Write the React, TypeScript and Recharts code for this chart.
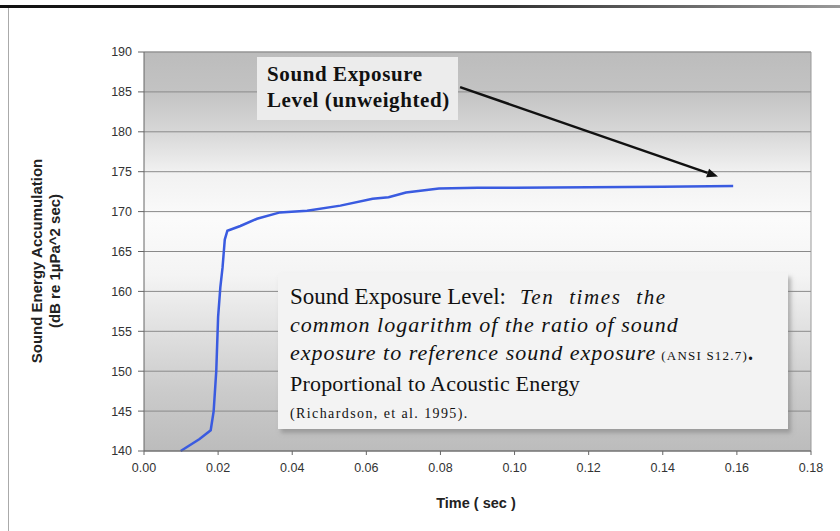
import { LineChart, Line, XAxis, YAxis, CartesianGrid, ReferenceLine, Customized } from 'recharts'

const timeSec = [0.0099, 0.015, 0.018, 0.0188, 0.0195, 0.02, 0.0206, 0.0212, 0.0218, 0.0225, 0.026, 0.0305, 0.0367, 0.044, 0.053, 0.0617, 0.066, 0.0707, 0.0796, 0.09, 0.1, 0.12, 0.14, 0.159]
const selDb = [140.0, 141.5, 142.6, 145.0, 150.0, 156.8, 160.5, 163.0, 166.5, 167.6, 168.2, 169.1, 169.9, 170.1, 170.75, 171.6, 171.8, 172.4, 172.9, 173.0, 173.0, 173.05, 173.1, 173.2]
const xTicks = [0, 0.02, 0.04, 0.06, 0.08, 0.1, 0.12, 0.14, 0.16, 0.18]
const yTicks = [140, 145, 150, 155, 160, 165, 170, 175, 180, 185, 190]
const arrowFrom = { x: 0.0853, y: 185.6 }
const arrowTo = { x: 0.1549, y: 174.4 }

const data = timeSec.map((t, i) => ({ t, sel: selDb[i] }))

const sans = '"Liberation Sans", Arial, sans-serif'
const serif = '"Liberation Serif", "Times New Roman", serif'

function Extras() {
  return (
    <g>
      <defs>
        <linearGradient id="plotBg" x1="0" y1="0" x2="0" y2="1">
          <stop offset="0%" stopColor="#bcbcbc" />
          <stop offset="10%" stopColor="#c3c3c3" />
          <stop offset="20%" stopColor="#d7d7d7" />
          <stop offset="30%" stopColor="#f1f1f1" />
          <stop offset="42%" stopColor="#fbfbfb" />
          <stop offset="56%" stopColor="#f4f4f4" />
          <stop offset="70%" stopColor="#e0e0e0" />
          <stop offset="85%" stopColor="#cbcbcb" />
          <stop offset="100%" stopColor="#bcbcbc" />
        </linearGradient>
      </defs>
      <text
        transform="rotate(-90 36 261)"
        x={36}
        y={261}
        textAnchor="middle"
        dominantBaseline="central"
        fontFamily={sans}
        fontWeight="bold"
        fontSize={15}
        fill="#222"
      >
        Sound Energy Accumulation
      </text>
      <text
        transform="rotate(-90 54 261)"
        x={54}
        y={261}
        textAnchor="middle"
        dominantBaseline="central"
        fontFamily={sans}
        fontWeight="bold"
        fontSize={15}
        fill="#222"
      >
        (dB re 1µPa^2 sec)
      </text>
      <text x={476} y={508} textAnchor="middle" fontFamily={sans} fontWeight="bold" fontSize={14.5} fill="#222">
        Time ( sec )
      </text>
    </g>
  )
}

function Arrow(props: any) {
  const { x1, y1, x2, y2 } = props
  if (x1 == null) return null
  const ang = Math.atan2(y2 - y1, x2 - x1)
  const len = 11
  const w = 4.5
  const bx = x2 - len * Math.cos(ang)
  const by = y2 - len * Math.sin(ang)
  const p1 = `${bx + w * Math.sin(ang)},${by - w * Math.cos(ang)}`
  const p2 = `${bx - w * Math.sin(ang)},${by + w * Math.cos(ang)}`
  return (
    <g>
      <line x1={x1} y1={y1} x2={bx} y2={by} stroke="#111" strokeWidth={2.5} />
      <polygon points={`${x2},${y2} ${p1} ${p2}`} fill="#111" />
    </g>
  )
}

export default function App() {
  return (
    <div style={{ position: 'relative', width: 840, height: 531, background: '#fff', overflow: 'hidden' }}>
      <style>{'body{margin:0}'}</style>
      <div style={{ position: 'absolute', left: 0, top: 5, width: 840, height: 3, background: 'linear-gradient(to right, #111 0%, #333 60%, #999 100%)' }} />
      <div style={{ position: 'absolute', left: 8, top: 8, width: 1, height: 523, background: '#aaa' }} />
      <LineChart width={840} height={531} data={data} margin={{ top: 52, right: 29, left: 84, bottom: 0 }}>
        <Customized component={Extras} />
        <CartesianGrid vertical={false} stroke="#8a8a8a" fill="url(#plotBg)" fillOpacity={1} />
        <XAxis
          dataKey="t"
          type="number"
          domain={[0, 0.18]}
          ticks={xTicks}
          tickFormatter={(v: number) => v.toFixed(2)}
          tick={{ fill: '#333', fontSize: 12.5, fontFamily: sans }}
          stroke="#666"
          tickSize={4}
          tickMargin={8}
          height={80}
        />
        <YAxis
          type="number"
          domain={[140, 190]}
          ticks={yTicks}
          tick={{ fill: '#333', fontSize: 12.5, fontFamily: sans }}
          stroke="#666"
          tickSize={6}
          tickMargin={6}
          width={60}
          interval={0}
        />
        <ReferenceLine x={0.18} stroke="#999" />
        <ReferenceLine y={190} stroke="#999" />
        <Line
          type="linear"
          dataKey="sel"
          stroke="#3a5be0"
          strokeWidth={2.5}
          dot={false}
          isAnimationActive={false}
        />
        <ReferenceLine segment={[arrowFrom, arrowTo]} shape={Arrow} ifOverflow="visible" />
      </LineChart>
      <div
        style={{
          position: 'absolute',
          left: 257,
          top: 57,
          width: 191,
          height: 59,
          paddingLeft: 10,
          paddingTop: 4,
          background: '#ececec',
          fontFamily: serif,
          fontWeight: 'bold',
          fontSize: 21,
          letterSpacing: 0.6,
          lineHeight: '26px',
          color: '#111',
          boxSizing: 'content-box',
          whiteSpace: 'nowrap',
        }}
      >
        Sound Exposure
        <br />
        Level (unweighted)
      </div>
      <div
        style={{
          position: 'absolute',
          left: 278,
          top: 273,
          width: 498,
          height: 156,
          paddingLeft: 12,
          background: '#f3f3f3',
          boxShadow: '3px 4px 4px rgba(120,120,120,0.5)',
          fontFamily: serif,
          color: '#111',
          lineHeight: '28px',
          fontSize: 20,
          whiteSpace: 'nowrap',
        }}
      >
        <div style={{ marginTop: 10 }}>
          <span style={{ fontSize: 23 }}>Sound Exposure Level:</span>
          <i style={{ fontSize: 21, letterSpacing: 1.6, wordSpacing: 8, marginLeft: 14 }}>Ten times the</i>
        </div>
        <div>
          <i style={{ fontSize: 22, letterSpacing: 1 }}>common logarithm of the ratio of sound</i>
        </div>
        <div>
          <i style={{ fontSize: 22, letterSpacing: 1 }}>exposure to reference sound exposure</i>{' '}
          <span style={{ fontSize: 13, letterSpacing: 1.2 }}>(ANSI S12.7)</span>
          <b>.</b>
        </div>
        <div style={{ fontSize: 22, letterSpacing: 0.2 }}>Proportional to Acoustic Energy</div>
        <div style={{ fontSize: 14, letterSpacing: 1.4, marginTop: 2 }}>(Richardson, et al. 1995).</div>
      </div>
    </div>
  )
}
